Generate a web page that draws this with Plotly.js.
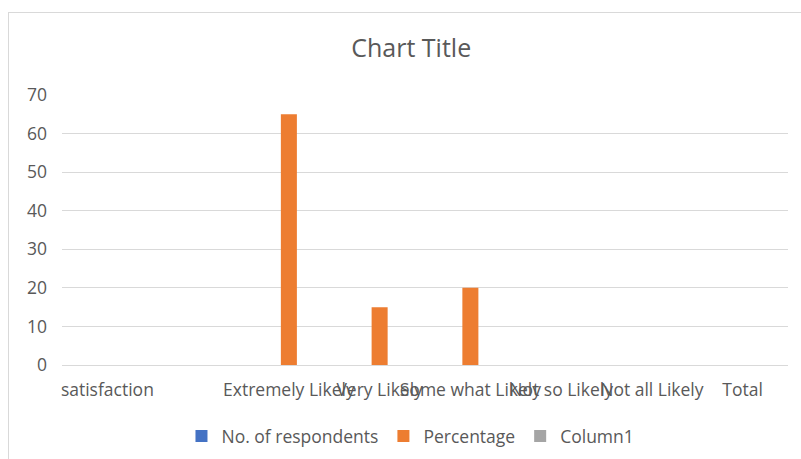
<!DOCTYPE html>
<html>
<head>
<meta charset="utf-8">
<script src="https://cdn.plot.ly/plotly-3.0.1.min.js"></script>
<style>
html, body { margin: 0; padding: 0; background: #fff; }
#frame { position: absolute; left: 8px; top: 12px; width: 820px; height: 470px; border: 1px solid #d9d9d9; box-sizing: border-box; }
#chart { position: absolute; left: 0; top: 0; width: 801px; height: 459px; }
</style>
</head>
<body>
<div id="frame"></div>
<div id="chart"></div>
<script>
var categories = ["satisfaction", "", "Extremely Likely", "Very Likely", "Some what Likely", "Not so Likely", "Not all Likely", "Total"];
var respondents = [null, null, null, null, null, null, null, null];
var percentage = [null, null, 65, 15, 20, null, null, null];
var column1 = [null, null, null, null, null, null, null, null];
var yTicks = [0, 10, 20, 30, 40, 50, 60, 70];

var xPos = categories.map(function (c, i) { return i; });
var font = "Open Sans, Liberation Sans, sans-serif";

var traces = [
  { type: "bar", name: "No. of respondents", x: xPos, y: respondents, marker: { color: "#4472C4" } },
  { type: "bar", name: "Percentage", x: xPos, y: percentage, marker: { color: "#ED7D31" } },
  { type: "bar", name: "Column1", x: xPos, y: column1, marker: { color: "#A5A5A5" } }
];

var layout = {
  width: 801, height: 459,
  margin: { l: 62, r: 13, t: 95, b: 94 },
  paper_bgcolor: "rgba(0,0,0,0)",
  plot_bgcolor: "rgba(0,0,0,0)",
  title: { text: "Chart Title", x: 0.481, xref: "paper", xanchor: "center", y: 0.895, yanchor: "middle", yref: "container",
           font: { family: font, size: 25, color: "#595959" } },
  barmode: "group",
  bargap: 0.47,
  bargroupgap: 0,
  showlegend: true,
  legend: { orientation: "h", x: 0.48, xanchor: "center", y: 0.05, yref: "container", yanchor: "middle",
            font: { family: font, size: 17.5, color: "#595959" }, itemwidth: 30, tracegroupgap: 0 },
  xaxis: {
    range: [-0.5, 7.5], automargin: false,
    tickmode: "array", tickvals: xPos, ticktext: categories,
    tickangle: 0,
    showgrid: false, zeroline: false, showline: false,
    ticks: "", ticklabelstandoff: 12,
    tickfont: { family: font, size: 17.5, color: "#595959" },
    fixedrange: true
  },
  yaxis: {
    range: [0, 70], automargin: false,
    tickmode: "array", tickvals: yTicks,
    showgrid: true, gridcolor: "#d9d9d9", gridwidth: 1,
    zeroline: true, zerolinecolor: "#d9d9d9", zerolinewidth: 1,
    showline: false, ticks: "", ticklabelstandoff: 14,
    tickfont: { family: font, size: 17.5, color: "#595959" },
    fixedrange: true
  }
};

Plotly.newPlot("chart", traces, layout, { displayModeBar: false, staticPlot: true });
</script>
</body>
</html>
